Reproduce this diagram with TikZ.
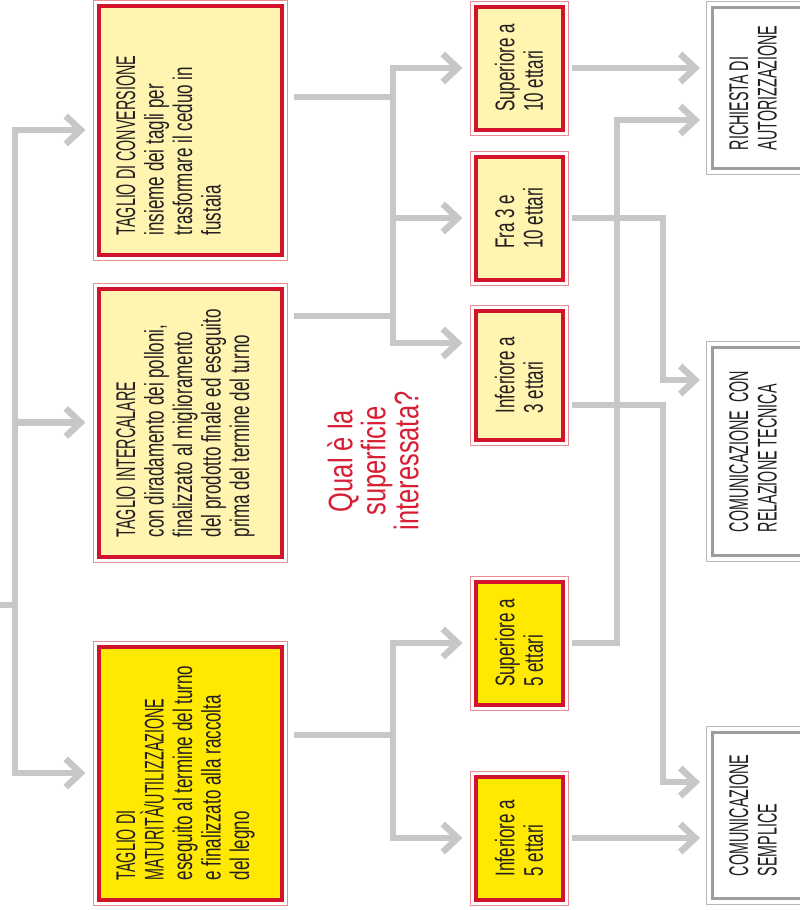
\documentclass[tikz,border=0pt]{standalone}
\usepackage{fontspec}
\setmainfont{Liberation Sans}
\newfontfamily\capsfont[FakeStretch=0.53]{Liberation Sans}
\newfontfamily\bodyfont[FakeStretch=0.63]{Liberation Sans}
\newfontfamily\askfont[FakeStretch=0.75]{Liberation Sans}
\usetikzlibrary{arrows.meta}

\definecolor{paleyel}{HTML}{FFF4B0}
\definecolor{brightyel}{HTML}{FFE900}
\definecolor{boxred}{HTML}{D2132C}
\definecolor{rimred}{HTML}{EA8C96}
\definecolor{boxgray}{HTML}{9D9D9D}
\definecolor{rimgray}{HTML}{B8B8B8}
\definecolor{pipegray}{HTML}{C6C7C9}
\definecolor{askred}{HTML}{D81E34}
\definecolor{ink}{HTML}{231F20}

\tikzset{
  tagbox/.style={draw=boxred, line width=4pt, fill=paleyel, inner sep=0pt},
  endbox/.style={draw=boxgray, line width=3pt, fill=white, inner sep=0pt},
  boxtext/.style={rotate=90, align=left, inner sep=0pt, text=ink, font=\bodyfont\fontsize{27}{28.5}\selectfont},
  pipe/.style={draw=pipegray, line width=6.5pt, line join=miter},
  flow/.style={pipe, shorten >=11pt, -{Straight Barb[length=15pt,width=28pt,sharp]}},
}

\begin{document}
\begin{tikzpicture}[x=1pt, y=-1pt]
    \useasboundingbox (0,0) rectangle (800,910);

    % tipi di taglio
    \node[tagbox, minimum width=183pt, minimum height=249pt] (conv) at (190,130) {};
    \node[tagbox, minimum width=183pt, minimum height=268pt] (inter) at (190,422.5) {};
    \node[tagbox, fill=brightyel, minimum width=183pt, minimum height=253pt] (matur) at (190,773) {};

    % superfici
    \node[tagbox, minimum width=87pt, minimum height=123pt] (sup10) at (519,68) {};
    \node[tagbox, minimum width=87pt, minimum height=123pt] (fra) at (519,218) {};
    \node[tagbox, minimum width=87pt, minimum height=129pt] (inf3) at (519,375) {};
    \node[tagbox, fill=brightyel, minimum width=87pt, minimum height=123pt] (sup5) at (519,643) {};
    \node[tagbox, fill=brightyel, minimum width=87pt, minimum height=123pt] (inf5) at (519,838) {};

    % procedure
    \node[endbox, minimum width=95pt, minimum height=161pt] (rich) at (760,88) {};
    \node[endbox, minimum width=95pt, minimum height=208pt] (rel) at (760,451.5) {};
    \node[endbox, minimum width=95pt, minimum height=166pt] (simp) at (760,815.5) {};

    \foreach \b in {conv,inter,matur,sup10,fra,inf3,sup5,inf5}
        \draw[rimred, line width=1pt] ([shift={(-3.5,-3.5)}]\b.north west) rectangle ([shift={(3.5,3.5)}]\b.south east);
    \foreach \b in {rich,rel,simp}
        \draw[rimgray, line width=1.2pt] ([shift={(-4.5,-4.5)}]\b.north west) rectangle ([shift={(4.5,4.5)}]\b.south east);

    \node[boxtext, anchor=north west] (conv-txt) at ([shift={(19.5,-21)}]conv.south west)
        {{\capsfont TAGLIO DI CONVERSIONE}\\insieme dei tagli per\\trasformare il ceduo in\\fustaia};
    \node[boxtext, anchor=north west] (inter-txt) at ([shift={(19.5,-21)}]inter.south west)
        {{\capsfont TAGLIO INTERCALARE}\\con diradamento dei polloni,\\finalizzato al miglioramento\\del prodotto finale ed eseguito\\prima del termine del turno};
    \node[boxtext, anchor=north west] (matur-txt) at ([shift={(19.5,-21)}]matur.south west)
        {{\capsfont TAGLIO DI}\\{\capsfont MATURITÀ/UTILIZZAZIONE}\\eseguito al termine del turno\\e finalizzato alla raccolta\\del legno};

    \node[boxtext] (sup10-txt) at (sup10) {Superiore a\\10 ettari};
    \node[boxtext] (fra-txt) at (fra) {Fra 3 e\\10 ettari};
    \node[boxtext] (inf3-txt) at (inf3) {Inferiore a\\3 ettari};
    \node[boxtext] (sup5-txt) at (sup5) {Superiore a\\5 ettari};
    \node[boxtext] (inf5-txt) at (inf5) {Inferiore a\\5 ettari};

    \node[boxtext, font=\capsfont\fontsize{27}{28.5}\selectfont] (rich-txt) at ([xshift=-7pt]rich.center) {RICHIESTA DI\\AUTORIZZAZIONE};
    \node[boxtext, font=\capsfont\fontsize{27}{28.5}\selectfont] (rel-txt) at ([xshift=-7pt]rel.center) {COMUNICAZIONE\ \ CON\\RELAZIONE TECNICA};
    \node[boxtext, font=\capsfont\fontsize{27}{28.5}\selectfont] (simp-txt) at ([xshift=-7pt]simp.center) {COMUNICAZIONE\\SEMPLICE};

    \node[rotate=90, align=center, inner sep=0pt, text=askred, font=\askfont\fontsize{34}{33}\selectfont] (ask) at (373,461)
        {Qual è la\\superficie\\interessata?};

    % collegamenti
    \coordinate (root) at (0,605);
    \coordinate (trunk) at (15,605);
    \coordinate (hub1) at (393,97);
    \coordinate (hub2) at (393,316);
    \coordinate (hub3) at (393,735);
    \coordinate (lift) at (617,120);
    \coordinate (drop1) at (663,380);
    \coordinate (drop2) at (663,782);

    \draw[pipe] (root) -- (trunk);
    \foreach \b in {conv,inter,matur}
        \draw[flow] (trunk) |- (\b.west);

    \draw[pipe, shorten <=10.5pt] ([yshift=33pt]conv.east) -- (hub1);
    \draw[pipe, shorten <=10.5pt] ([yshift=106.5pt]inter.east) -- (hub2);
    \draw[pipe] (hub1) -- (hub2);
    \draw[flow] (hub1) |- (sup10.west);
    \draw[flow] (hub2) |- (fra.west);
    \draw[flow] (hub2) |- ([yshift=32pt]inf3.west);

    \draw[pipe, shorten <=10.5pt] ([yshift=38pt]matur.east) -- (hub3);
    \draw[flow] (hub3) |- (sup5.west);
    \draw[flow] (hub3) |- (inf5.west);

    \draw[flow, shorten <=7.5pt] (sup10.east) -- (sup10.east -| rich.west);
    \draw[flow, shorten <=7.5pt] (sup5.east) -| (lift) -- (lift -| rich.west);
    \draw[flow, shorten <=7.5pt] (fra.east) -| (drop1) -- (drop1 -| rel.west);
    \draw[flow, shorten <=7.5pt] ([yshift=-30pt]inf3.east) -| (drop2) -- (drop2 -| simp.west);
    \draw[flow, shorten <=7.5pt] (inf5.east) -- (inf5.east -| simp.west);
\end{tikzpicture}
\end{document}
